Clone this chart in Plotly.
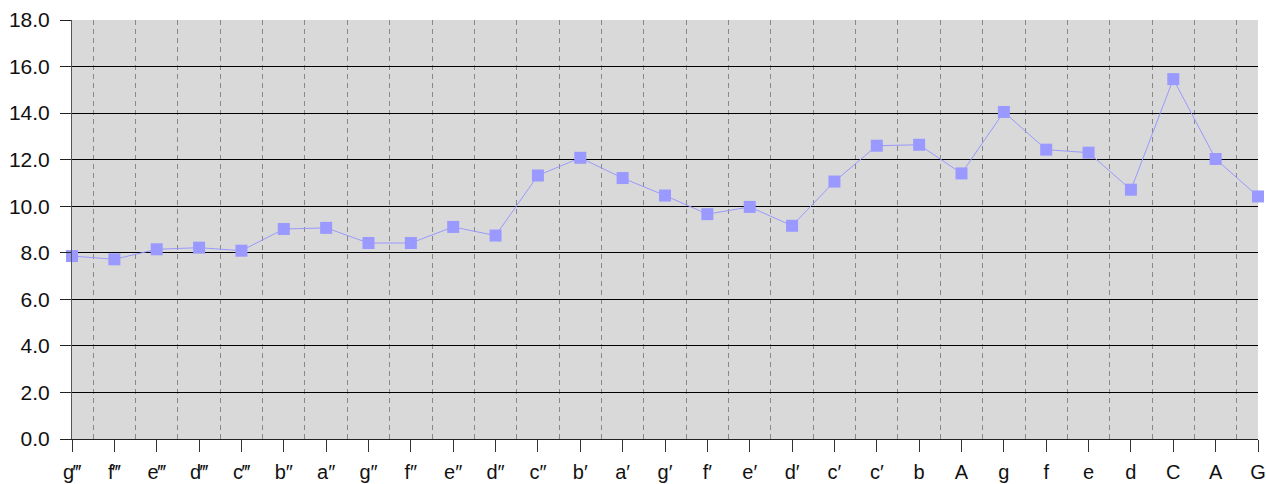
import plotly.graph_objects as go

labels = ["g\u2034", "f\u2034", "e\u2034", "d\u2034", "c\u2034", "b\u2033", "a\u2033", "g\u2033", "f\u2033",
          "e\u2033", "d\u2033", "c\u2033", "b\u2032", "a\u2032", "g\u2032", "f\u2032", "e\u2032", "d\u2032",
          "c\u2032", "c\u2032", "b", "A", "g", "f", "e", "d", "C", "A", "G"]
values = [7.86, 7.72, 8.15, 8.22, 8.09, 9.02, 9.07, 8.42, 8.42,
          9.11, 8.74, 11.32, 12.08, 11.21, 10.46, 9.66, 9.97, 9.16,
          11.06, 12.6, 12.64, 11.41, 14.05, 12.43, 12.3, 10.71, 15.46, 12.03, 10.42]

positions = list(range(len(labels)))
n = len(labels)

fig = go.Figure()
fig.add_trace(go.Scatter(
    x=positions, y=values, mode="lines+markers",
    line=dict(color="#9999ff", width=1),
    marker=dict(symbol="square", size=12, color="#9999ff"),
    cliponaxis=False, showlegend=False,
))

xfont = dict(family="Liberation Sans, Arial, sans-serif", size=20, color="#111111")
yfont = dict(family="Liberation Sans, Arial, sans-serif", size=21, color="#111111")

fig.update_layout(
    width=1266, height=484,
    margin=dict(l=72, r=8, t=20, b=45),
    paper_bgcolor="white",
    plot_bgcolor="#d9d9d9",
    font=xfont,
    xaxis=dict(
        range=[0, n - 1], automargin=False,
        tickmode="array", tickvals=positions, ticktext=labels,
        showgrid=False, zeroline=False,
        showline=True, linecolor="#222222", linewidth=1,
        ticks="outside", ticklen=12, tickcolor="#333333", tickwidth=1,
        ticklabelstandoff=3, ticklabeloverflow="allow",
        tickfont=xfont,
        minor=dict(tickvals=[i + 0.5 for i in range(n - 1)], showgrid=True,
                   gridcolor="#888888", gridwidth=1, griddash="5px,4px", ticks=""),
    ),
    yaxis=dict(
        range=[0, 18], dtick=2, tick0=0, tickformat=".1f", automargin=False,
        showgrid=True, gridcolor="#000000", gridwidth=1,
        zeroline=False,
        showline=True, linecolor="#555555", linewidth=1,
        ticks="outside", ticklen=11, tickcolor="#222222", tickwidth=1,
        ticklabelstandoff=6,
        tickfont=yfont,
    ),
)

fig.write_html(
    "out.html",
    config={"displayModeBar": False},
    post_script="document.body.style.margin='0';document.body.style.overflow='hidden';",
)
